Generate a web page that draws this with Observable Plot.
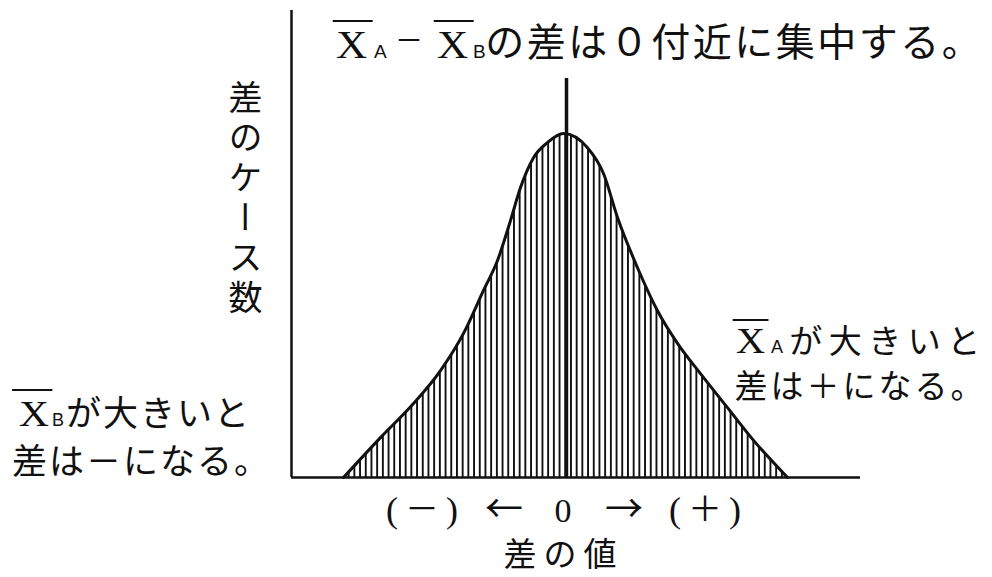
<!DOCTYPE html>
<html>
<head>
<meta charset="utf-8">
<script src="https://cdn.jsdelivr.net/npm/d3@7"></script>
<script src="https://cdn.jsdelivr.net/npm/@observablehq/plot@0.6"></script>
<style>
  html, body { margin: 0; padding: 0; background: #fff; }
  #wrap { position: relative; width: 992px; height: 577px; overflow: hidden; background: #fff; color: #111;
          font-family: "Noto Sans CJK JP", sans-serif; font-weight: 400; text-spacing-trim: space-all; }
  #wrap svg { position: absolute; left: 0; top: 0; }
  .lbl { position: absolute; white-space: nowrap; }
  .ch { display: inline-block; text-align: center; }
  .box { display: inline-block; box-sizing: border-box; line-height: 1; }
  .xbar { position: relative; display: inline-block; transform-origin: left center; }
  .xbar::before { content: ""; position: absolute; left: var(--ol, -3px); right: var(--or, -4px); top: var(--ot, -5px); border-top: 2px solid #111; }
</style>
</head>
<body>
<div id="wrap"></div>
<script>
// 差の値 (relative units; 0 = no difference) and 差のケース数 (relative frequency, peak = 1)
const diff  = [-2.23, -1.86, -1.53, -1.26, -1.03, -0.83, -0.69, -0.56, -0.46, -0.33, -0.19, -0.03, 0.21, 0.37, 0.51, 0.71, 0.91, 1.11, 1.34, 1.61, 1.87, 2.21];
const count = [0, 0.116, 0.215, 0.311, 0.419, 0.544, 0.631, 0.747, 0.843, 0.930, 0.974, 1.0, 0.959, 0.884, 0.756, 0.610, 0.485, 0.390, 0.302, 0.203, 0.108, 0];
const xDomain = [-2.75, 2.94];
const yDomain = [0, 1.358];
const centerTop = 1.16;

const titleText = "の差は０付近に集中する。";
const yLabel = "差のケース数";
const leftLines = ["が大きいと", "差は－になる。"];
const rightLines = ["が大きいと", "差は＋になる。"];
const tickText = ["(", "－", ")", "←", "0", "→", "(", "＋", ")"];
const xLabel = "差の値";

const data = diff.map((d, i) => ({diff: d, count: count[i]}));
const ink = "#111";

const chart = Plot.plot({
  width: 992, height: 577,
  marginLeft: 291, marginRight: 132, marginTop: 10, marginBottom: 100,
  x: {domain: xDomain, axis: null},
  y: {domain: yDomain, axis: null},
  marks: [
    Plot.areaY(data, {x: "diff", y: "count", fill: "url(#hatch)", curve: "monotone-x"}),
    Plot.lineY(data, {x: "diff", y: "count", stroke: ink, strokeWidth: 3, curve: "monotone-x"}),
    Plot.ruleX([0], {y1: 0, y2: centerTop, stroke: ink, strokeWidth: 3.5}),
    Plot.ruleY([0], {stroke: ink, strokeWidth: 2.5}),
    Plot.ruleX([xDomain[0]], {y1: 0, y2: yDomain[1], stroke: ink, strokeWidth: 2.5})
  ]
});

const ns = "http://www.w3.org/2000/svg";
const defs = document.createElementNS(ns, "defs");
const pat = document.createElementNS(ns, "pattern");
pat.setAttribute("id", "hatch");
pat.setAttribute("patternUnits", "userSpaceOnUse");
pat.setAttribute("width", "5.7");
pat.setAttribute("height", "10");
const r = document.createElementNS(ns, "rect");
r.setAttribute("x", "0"); r.setAttribute("y", "0");
r.setAttribute("width", "1.9"); r.setAttribute("height", "10");
r.setAttribute("fill", ink);
pat.appendChild(r);
defs.appendChild(pat);
chart.insertBefore(defs, chart.firstChild);

const wrap = document.getElementById("wrap");
wrap.appendChild(chart);

// font metrics (ascent, descent in em) used to put a text's first baseline where wanted
const FAM = {
  cjk:   {name: "'Noto Sans CJK JP', sans-serif", a: 1.16, d: 0.288},
  serif: {name: "'Liberation Serif', serif", a: 0.891, d: 0.216},
  sans:  {name: "'Liberation Sans', sans-serif", a: 0.905, d: 0.212}
};
function put(html, x, baseline, f, fam, extra = {}, L = f) {
  const m = FAM[fam];
  const top = baseline - (L / 2 + (m.a - m.d) / 2 * f);
  const d = document.createElement("div");
  d.className = "lbl";
  d.innerHTML = html;
  Object.assign(d.style, {left: x + "px", top: top + "px", fontSize: f + "px", lineHeight: L + "px", fontFamily: m.name}, extra);
  wrap.appendChild(d);
  return d;
}
const chars = (s, pitch) => [...s].map(c => `<span class="ch" style="width:${pitch}px">${c}</span>`).join("");
const xbar = (f, sx, ol, or, gap) =>
  `<span class="xbar" style="transform:scaleX(${sx});--ol:${ol}px;--or:${or}px;--ot:${(0.229 * f - gap).toFixed(1)}px">X</span>`;
// "X̄" + subscript letter laid out inline, each in a box of fixed width
const xsub = (letter, f, sx, ol, or, gap, xw, xpad, subF, subW) =>
  `<span class="box" style="width:${xw}px;padding-left:${xpad}px;font-family:${FAM.serif.name};font-size:${f}px">${xbar(f, sx, ol, or, gap)}</span>` +
  `<span class="box" style="width:${subW}px;font-family:${FAM.sans.name};font-size:${subF}px">${letter}</span>`;

// title
put(xbar(40, 1.08, -3, -5, 14), 336, 58, 40, "serif");
put("A", 374, 58, 19, "sans");
put("－", 395, 51, 28, "cjk");
put(xbar(40, 1.08, -3, -5, 14), 437, 58, 40, "serif");
put("B", 473, 58, 19, "sans");
put(chars(titleText, 41.5), 484, 57, 39, "cjk");

// y axis label
put(yLabel, 228, 0, 34, "cjk", {top: "80px", lineHeight: "34px", letterSpacing: "6px", writingMode: "vertical-rl"});

// left annotation (one text block, two lines)
put(xsub("B", 36, 1.15, -6, -3, 15, 41, 8, 18, 13) + chars(leftLines[0], 37) + "<br>" + chars(leftLines[1], 37),
  11, 426, 35, "cjk", {}, 48);

// right annotation (one text block, two lines)
put(xsub("A", 36, 1.12, -3, -3, 12, 38, 3, 18, 15) + chars(rightLines[0], 39.5) + "<br>" + chars(rightLines[1], 36),
  733, 354, 33, "cjk", {}, 45);

// x axis tick row and label
const tickCenter = [392, 422, 452, 504, 563, 624, 675, 705, 735];
tickText.forEach((t, i) => {
  let fam = "cjk", f = 34, b = 522;
  if (t === "(" || t === ")") { fam = "serif"; f = 36; }
  if (t === "0") { fam = "serif"; f = 34; }
  if (t === "←" || t === "→") { f = 38; b = 523; }
  put(t, tickCenter[i] - 30, b, f, fam, {width: "60px", textAlign: "center"});
});
put(chars(xLabel, 40), 500, 567, 33, "cjk");
</script>
</body>
</html>
